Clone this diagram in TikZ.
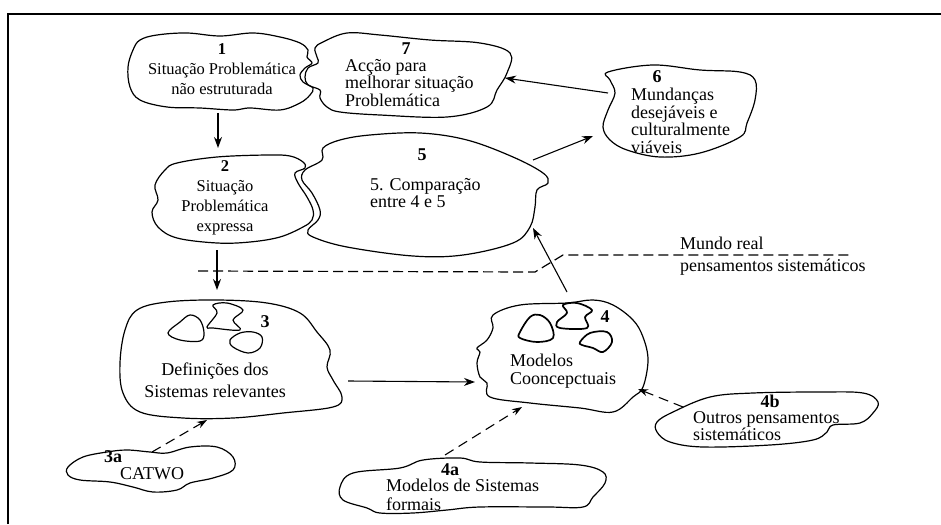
\documentclass[tikz,border=0pt]{standalone}
\usepackage{fontspec}
\setmainfont{Liberation Serif}
\usetikzlibrary{arrows.meta}
\begin{document}
\begin{tikzpicture}[x=1pt,y=-1pt,
  blob/.style={line width=1.2pt, line join=round},
  inner/.style={line width=1.7pt, line join=round},
  txt/.style={inner sep=0pt, align=left, font=\fontsize{18}{17.5}\selectfont},
  txtc/.style={inner sep=0pt, align=center, font=\fontsize{16.5}{20}\selectfont},
  num/.style={inner sep=0pt, font=\fontsize{18}{18}\selectfont\bfseries},
  arr/.style={line width=1.1pt, -{Stealth[length=11pt,width=8pt]}},
  darr/.style={line width=1.1pt, dash pattern=on 10pt off 6pt, -{Stealth[length=10pt,width=7pt]}},
  bound/.style={line width=1.2pt, dash pattern=on 10pt off 5pt}]
\useasboundingbox (0,0) rectangle (941,524);
\draw[line width=1.5pt] (8,524) -- (8,14) -- (941,14);

% blob 1
\draw[blob] plot[smooth cycle, tension=0.6] coordinates {(133,50) (140,40) (157,35) (187,33) (220,36) (253,33) (280,37) (300,43) (308,50) (307,57) (312,63) (305,68) (300,75) (303,82) (313,88) (310,95) (300,103) (280,110) (250,108) (233,110) (200,108) (167,107) (140,100) (130,87) (128,67)};
% blob 7
\draw[blob] plot[smooth cycle, tension=0.6] coordinates {(315,48) (323,42) (347,33) (380,35) (430,40) (480,43) (510,53) (507,73) (497,90) (487,107) (447,117) (380,115) (340,112) (327,107) (320,98) (320,90) (308,85) (305,77) (308,68) (318,63) (317,57)};
% blob 2
\draw[blob] plot[smooth cycle, tension=0.6] coordinates {(177,163) (217,157) (267,155) (290,156) (303,162) (305,168) (295,173) (298,183) (307,197) (313,210) (312,220) (303,227) (280,237) (250,242) (217,243) (177,238) (158,227) (152,212) (158,200) (155,185) (165,170)};
% blob 5
\draw[blob] plot[smooth cycle, tension=0.6] coordinates {(323,148) (340,140) (370,135) (420,133) (467,140) (513,157) (543,173) (548,183) (537,190) (535,207) (530,227) (513,243) (463,255) (413,256) (347,247) (313,237) (308,230) (318,220) (320,210) (312,193) (302,180) (305,170) (322,160)};
% blob 6
\draw[blob] plot[smooth cycle, tension=0.6] coordinates {(608,72) (653,65) (700,70) (740,72) (755,80) (755,100) (747,123) (740,137) (700,153) (660,157) (627,150) (610,140) (603,127) (608,110) (615,93) (610,80)};
% blob 3
\draw[blob] plot[smooth cycle, tension=0.6] coordinates {(137,310) (167,302) (217,300) (267,303) (300,313) (317,332) (330,350) (327,367) (333,380) (342,397) (333,407) (283,413) (233,418) (183,418) (140,412) (123,393) (120,363) (125,330)};
\draw[blob] plot[smooth cycle, tension=0.6] coordinates {(168,333) (180,322) (190,315) (200,320) (204,333) (200,341) (180,340)};
\draw[blob] plot[smooth cycle, tension=0.6] coordinates {(207,327) (217,313) (213,305) (227,303) (243,310) (233,320) (240,330) (213,328)};
\draw[blob] plot[smooth cycle, tension=0.6] coordinates {(230,340) (240,333) (253,332) (262,337) (260,348) (248,353) (233,347)};
% blob 4
\draw[blob] plot[smooth cycle, tension=0.6] coordinates {(493,315) (520,305) (567,303) (593,300) (613,305) (633,320) (643,337) (648,360) (643,387) (633,397) (613,412) (580,408) (530,403) (490,397) (487,383) (480,377) (477,363) (480,352) (477,348) (487,340) (493,328)};
\draw[inner] plot[smooth cycle, tension=0.6] coordinates {(520,332) (530,317) (540,315) (550,323) (553,338) (537,342) (520,338)};
\draw[inner] plot[smooth cycle, tension=0.6] coordinates {(557,322) (567,313) (563,305) (577,303) (592,310) (585,317) (587,328) (560,328)};
\draw[inner] plot[smooth cycle, tension=0.6] coordinates {(580,342) (590,333) (607,332) (612,342) (603,352) (593,348) (582,345)};
% blob 3a
\draw[blob] plot[smooth cycle, tension=0.6] coordinates {(68,467) (83,457) (107,452) (127,450) (150,452) (167,453) (190,447) (217,447) (233,457) (233,470) (213,478) (190,483) (177,490) (153,492) (133,487) (110,482) (80,480) (68,475)};
% blob 4a
\draw[blob] plot[smooth cycle, tension=0.6] coordinates {(340,487) (353,473) (400,468) (423,460) (460,458) (480,462) (530,463) (580,465) (603,472) (605,483) (593,497) (583,507) (547,507) (480,507) (447,510) (413,513) (380,513) (367,508) (343,500)};
% blob 4b
\draw[blob] plot[smooth cycle, tension=0.6] coordinates {(657,422) (673,412) (710,397) (753,393) (820,392) (863,393) (878,402) (873,413) (860,423) (833,425) (827,432) (813,440) (770,445) (703,447) (670,442) (657,432)};

% texts
\node[txtc] (t1) at (222,69) {{\bfseries 1}\\Situação Problemática\\não estruturada};
\node[txtc] (t2) at (225,198) {{\bfseries 2}\\Situação\\Problemática\\expressa};
\node[num] (n7) at (406,49) {7};
\node[txt, anchor=west] (t7) at (345,83) {Acção para\\melhorar situação\\Problemática};
\node[num] (n6) at (657,77) {6};
\node[txt, anchor=west] (t6) at (631,121) {Mundanças\\desejáveis e\\culturalmente\\viáveis};
\node[num] (n5) at (422,155) {5};
\node[txt, anchor=west] (t5) at (370,193) {5. Comparação\\entre 4 e 5};
\node[num] (n3) at (265,322) {3};
\node[txt, align=center, font=\fontsize{18}{22}\selectfont] (t3) at (215,380) {Definições dos\\Sistemas relevantes};
\node[num] (n4) at (605,317) {4};
\node[txt, anchor=west] (t4) at (510,371) {Modelos\\Cooncepctuais};
\node[num] (n3a) at (113,457) {3a};
\node[txt] (t3a) at (152,474) {CATWO};
\node[num] (n4a) at (450,470) {4a};
\node[txt, anchor=west, font=\fontsize{18}{19}\selectfont] (t4a) at (386,495) {Modelos de Sistemas\\formais};
\node[num] (n4b) at (770,401) {4b};
\node[txt, anchor=west, font=\fontsize{18}{16.5}\selectfont] (t4b) at (693,426) {Outros pensamentos\\sistemáticos};
\node[txt, anchor=west] (mr) at (680,243) {Mundo real};
\node[txt, anchor=west] (ps) at (680,267) {pensamentos sistemáticos};

% boundary
\coordinate (b1) at (198,271);
\coordinate (b2) at (535,272);
\coordinate (b3) at (563,255);
\coordinate (b4) at (853,255);
\draw[bound] (b1) -- (b2) -- (b3) -- (b4);

% connector ends
\coordinate (c1s) at (218,113);
\coordinate (c2n) at (218,148);
\coordinate (c2s) at (217,250);
\coordinate (c3n) at (217,290);
\coordinate (c6w) at (608,93);
\coordinate (c7e) at (505,78);
\coordinate (c5e) at (533,160);
\coordinate (c6sw) at (593,136);
\coordinate (c4n) at (567,292);
\coordinate (c5s) at (533,228);
\coordinate (c3e) at (348,381);
\coordinate (c4w) at (475,382);
\coordinate (c3an) at (152,452);
\coordinate (c3s) at (207,420);
\coordinate (c4an) at (445,455);
\coordinate (c4s) at (522,407);
\coordinate (c4bw) at (683,407);
\coordinate (c4e) at (638,389);

\draw[arr] (c1s) -- (c2n);
\draw[arr] (c2s) -- (c3n);
\draw[arr] (c6w) -- (c7e);
\draw[arr] (c5e) -- (c6sw);
\draw[arr] (c4n) -- (c5s);
\draw[arr] (c3e) -- (c4w);
\draw[darr] (c3an) -- (c3s);
\draw[darr] (c4an) -- (c4s);
\draw[darr] (c4bw) -- (c4e);
\end{tikzpicture}
\end{document}
